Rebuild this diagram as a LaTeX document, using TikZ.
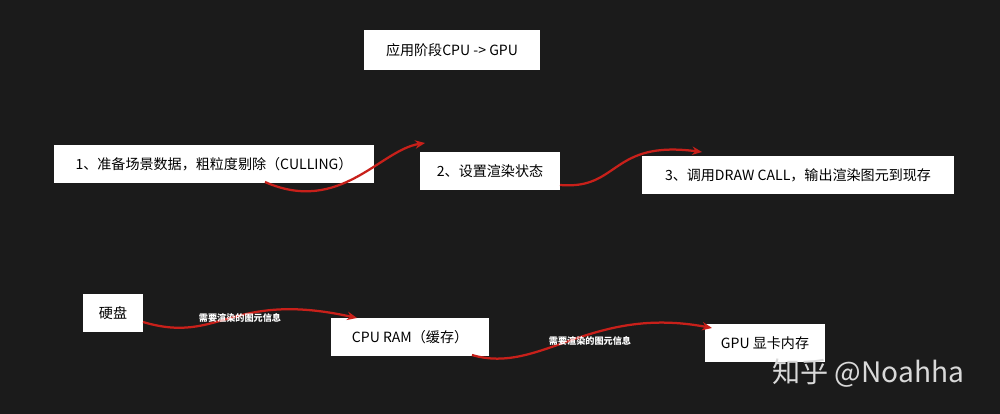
\documentclass[tikz,border=0pt]{standalone}
\usepackage{fontspec}
\setmainfont{Noto Sans CJK SC}
\usetikzlibrary{arrows.meta}
\definecolor{bg}{HTML}{1B1B1B}
\definecolor{arr}{HTML}{C8201A}
\begin{document}
\begin{tikzpicture}[x=0.025cm,y=-0.025cm,
  box/.style={fill=white,text=black,font=\fontsize{10}{12}\selectfont,inner sep=0pt,minimum height=#1},
  box/.default=27pt,
  con/.style={draw=arr,line width=1.6pt,-{Stealth[length=7pt,width=6pt]}},
  lab/.style={text=white,font=\fontsize{6.5}{8}\selectfont\bfseries}]
\fill[bg] (0,0) rectangle (1000,414);
\useasboundingbox (0,0) rectangle (1000,414);
\node[box,minimum width=125pt,minimum height=28pt] (t) at (452,50) {应用阶段CPU -> GPU};
\node[box,minimum width=228pt] (b1) at (214,164) {1、准备场景数据，粗粒度剔除（CULLING）};
\node[box,minimum width=100pt] (b2) at (490,171) {2、设置渲染状态};
\node[box,minimum width=222pt] (b3) at (798,175) {3、调用DRAW CALL，输出渲染图元到现存};
\node[box,minimum width=42pt] (h) at (113,313) {硬盘};
\node[box,minimum width=113pt] (c) at (410,337) {CPU RAM（缓存）};
\node[box,minimum width=86pt] (g) at (765,343) {GPU 显卡内存};
\node[text=white!85!black,font=\fontsize{20}{24}\selectfont] (w) at (868,373) {知乎 @Noahha};
\coordinate (a1s) at (265,182); \coordinate (a1e) at (425,143);
\draw[con] (a1s) .. controls (340,215) and (380,150) .. (a1e);
\coordinate (a2s) at (560,185); \coordinate (a2e) at (702,152);
\draw[con] (a2s) .. controls (620,190) and (610,140) .. (a2e);
\coordinate (a3s) at (143,322); \coordinate (a3e) at (357,318);
\draw[con] (a3s) .. controls (220,345) and (230,290) .. (a3e);
\coordinate (a4s) at (472,355); \coordinate (a4e) at (712,328);
\draw[con] (a4s) .. controls (540,375) and (590,305) .. (a4e);
\node[lab] (l1) at (240,318) {需要渲染的图元信息};
\node[lab] (l2) at (590,341) {需要渲染的图元信息};
\end{tikzpicture}
\end{document}
